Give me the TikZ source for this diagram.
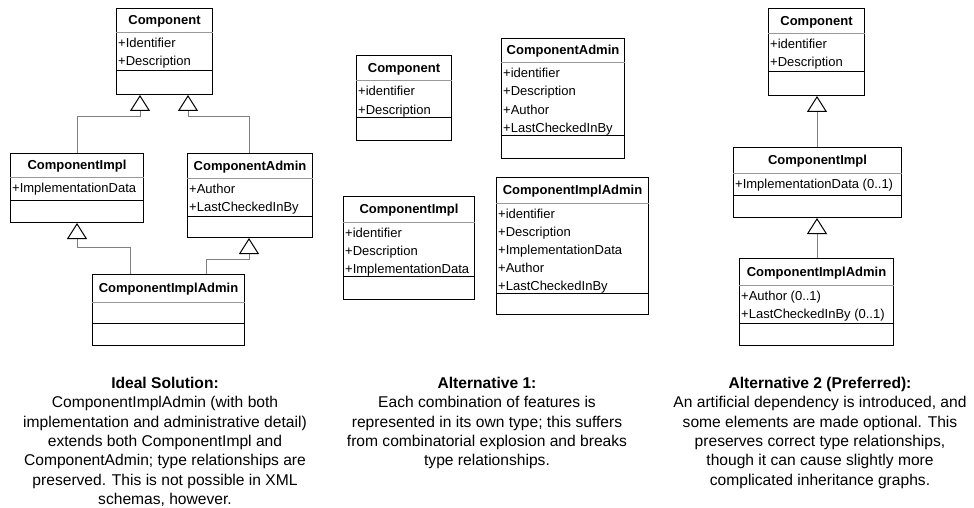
\documentclass[tikz,border=0pt]{standalone}
\usepackage{fontspec}
\setmainfont{Liberation Sans}
\usetikzlibrary{arrows.meta,calc}
\tikzset{
  box/.style={draw=black, line width=1pt, fill=white, inner sep=0pt},
  tsep/.style={draw=gray!80, line width=1pt},
  asep/.style={draw=black, line width=1pt},
  ttl/.style={font=\fontsize{13}{16}\selectfont\bfseries, inner sep=0pt},
  attr/.style={font=\fontsize{13}{16}\selectfont, inner sep=0pt},
  captext/.style={font=\fontsize{15.6}{19.3}\selectfont, align=center, inner sep=0pt, anchor=north},
  inh/.style={draw=gray, line width=1pt, -{Triangle[width=20pt,length=16pt,color=black,fill=white]}}
}
\newcommand\umlclass[9]{%
  \node[box, minimum width=#4pt, minimum height=#5pt, anchor=north west] (#1) at (#2,#3) {};
  \draw[tsep] ($(#1.north west)+(0,#6)$) -- ($(#1.north east)+(0,#6)$);
  \draw[asep] ($(#1.north west)+(0,#7)$) -- ($(#1.north east)+(0,#7)$);
  \node[ttl, anchor=base] (#1-t) at ($(#1.north)+(0,#6/2+4.5)$) {#8};
  \if\relax\detokenize{#9}\relax\else
  \foreach \a [count=\i from 0] in {#9}
    \node[attr, anchor=base west] (#1-a\i) at ($(#1.north west)+(2,#6+15+18*\i)$) {\a};
  \fi
}
\begin{document}
\begin{tikzpicture}[x=1pt,y=-1pt]
\path[use as bounding box, fill=white] (0,0) rectangle (974,508);
% Left diagram
\umlclass{L1}{116}{8}{96}{86}{25}{63}{Component}{+Identifier,+Description}
\umlclass{L2}{10}{153}{133}{69}{24}{47}{ComponentImpl}{+ImplementationData}
\umlclass{L3}{187}{153}{125}{84}{25}{63}{ComponentAdmin}{+Author,+LastCheckedInBy}
\umlclass{L4}{92}{274}{152}{71}{28}{49}{ComponentImplAdmin}{}
\draw[inh] (L2.north -| 77,0) |- (140,117) -- (L1.south -| 140,0);
\draw[inh] (L3.north -| 249,0) |- (188,117) -- (L1.south -| 188,0);
\draw[inh] (L4.north -| 130,0) |- (77,247) -- (L2.south -| 77,0);
\draw[inh] (L4.north -| 206,0) |- (249,259) -- (L3.south -| 249,0);
% Middle diagram
\umlclass{M1}{356}{55}{95}{85}{26}{63}{Component}{+identifier,+Description}
\umlclass{M2}{501}{38}{123}{120}{25}{98}{ComponentAdmin}{+identifier,+Description,+Author,+LastCheckedInBy}
\umlclass{M3}{343}{196}{131}{103}{26}{80}{ComponentImpl}{+identifier,+Description,+ImplementationData}
\umlclass{M4}{496}{177}{152}{137}{26}{116}{ComponentImplAdmin}{+identifier,+Description,+ImplementationData,+Author,+LastCheckedInBy}
% Right diagram
\umlclass{R1}{768}{8}{96}{87}{26}{64}{Component}{+identifier,+Description}
\umlclass{R2}{733}{147}{168}{70}{26}{48}{ComponentImpl}{+ImplementationData (0..1)}
\umlclass{R3}{739}{258}{154}{87}{27}{65}{ComponentImplAdmin}{+Author (0..1),+LastCheckedInBy (0..1)}
\draw[inh] (R2.north -| 817,0) -- (R1.south -| 817,0);
\draw[inh] (R3.north -| 817,0) -- (R2.south -| 817,0);
% Captions
\node[captext] (c1) at (165,377) {\textbf{Ideal Solution:}\\
ComponentImplAdmin (with both\\
implementation and administrative detail)\\
extends both ComponentImpl and\\
ComponentAdmin; type relationships are\\
preserved. This is not possible in XML\\
schemas, however.};
\node[captext] (c2) at (487,377) {\textbf{Alternative 1:}\\
Each combination of features is\\
represented in its own type; this suffers\\
from combinatorial explosion and breaks\\
type relationships.};
\node[captext] (c3) at (820,377) {\textbf{Alternative 2 (Preferred):}\\
An artificial dependency is introduced, and\\
some elements are made optional. This\\
preserves correct type relationships,\\
though it can cause slightly more\\
complicated inheritance graphs.};
\end{tikzpicture}
\end{document}
